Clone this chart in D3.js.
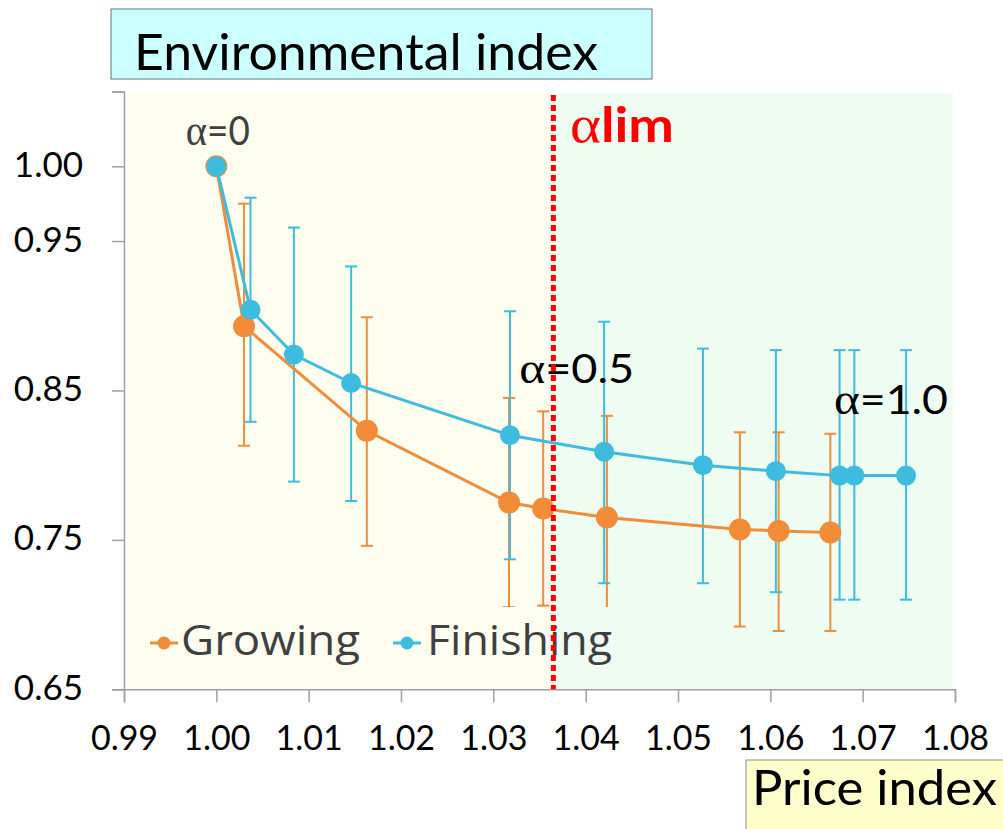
<!DOCTYPE html>
<html>
<head>
<meta charset="utf-8">
<script src="https://cdn.jsdelivr.net/npm/d3@7"></script>
<style>
  html, body { margin: 0; padding: 0; background: #ffffff; }
  svg { display: block; }
</style>
</head>
<body>
<svg id="chart" width="1003" height="829"></svg>
<script>
// ---------- DATA ----------
const xTickValues = [0.99, 1.00, 1.01, 1.02, 1.03, 1.04, 1.05, 1.06, 1.07, 1.08];
const yTickValues = [0.65, 0.75, 0.85, 0.95, 1.00, 1.05];
const yTickLabels = ["0.65", "0.75", "0.85", "0.95", "1.00", ""];

const growingPrice = [1.000, 1.0030, 1.0163, 1.0317, 1.0354, 1.0423, 1.0567, 1.0609, 1.0665];
const growingEnv   = [1.000, 0.893, 0.823, 0.775, 0.771, 0.765, 0.757, 0.756, 0.755];
const growingHigh  = [null, 0.975, 0.899, 0.845, 0.836, 0.833, 0.822, 0.822, 0.821];
const growingLow   = [null, 0.813, 0.746, 0.705, 0.706, 0.697, 0.692, 0.689, 0.689];

const finishingPrice = [1.000, 1.0037, 1.0084, 1.0146, 1.0318, 1.0420, 1.0527, 1.0606, 1.0675, 1.0691, 1.0747];
const finishingEnv   = [1.000, 0.904, 0.874, 0.855, 0.820, 0.809, 0.800, 0.796, 0.793, 0.793, 0.793];
const finishingHigh  = [null, 0.979, 0.959, 0.933, 0.903, 0.896, 0.878, 0.877, 0.877, 0.877, 0.877];
const finishingLow   = [null, 0.829, 0.789, 0.776, 0.737, 0.721, 0.721, 0.715, 0.710, 0.710, 0.710];

const alphaLim = 1.0365;
const seriesNames = ["Growing", "Finishing"];
const annotations = [
  { alpha: "\u03B1", rest: "=0",   price: 0.9967, env: 1.0140, color: "#404040", w: 64 },
  { alpha: "\u03B1", rest: "=0.5", price: 1.0328, env: 0.8547, color: "#000000", w: 115 },
  { alpha: "\u03B1", rest: "=1.0", price: 1.0669, env: 0.8340, color: "#000000", w: 114 }
];

// ---------- SETUP ----------
const COL_G = "#F28C38";
const COL_F = "#3EBCE0";
const svg = d3.select("#chart");

const x = d3.scaleLinear().domain([0.99, 1.08]).range([124, 955]);
const y = d3.scaleLinear().domain([0.65, 1.05]).range([689.3, 91.6]);

const plotTop = 93, plotBottom = y(0.65), plotLeft = 127, plotRight = 953;
const limX = x(alphaLim);

// backgrounds
svg.append("rect").attr("x", plotLeft).attr("y", plotTop)
  .attr("width", limX - plotLeft).attr("height", plotBottom - plotTop).attr("fill", "#FDFDF0");
svg.append("rect").attr("x", limX).attr("y", plotTop)
  .attr("width", plotRight - limX).attr("height", plotBottom - plotTop).attr("fill", "#EFFCF1");

// title box
svg.append("rect").attr("x", 111).attr("y", 9).attr("width", 541).attr("height", 70)
  .attr("fill", "#CCFFFF").attr("stroke", "#5A7878").attr("stroke-width", 1);
svg.append("text").attr("x", 134).attr("y", 70)
  .attr("font-family", "Lato").attr("font-size", 50).attr("fill", "#000")
  .attr("textLength", 464).attr("lengthAdjust", "spacingAndGlyphs")
  .text("Environmental index");

// price index box
svg.append("rect").attr("x", 746).attr("y", 760).attr("width", 270).attr("height", 90)
  .attr("fill", "#FFFFCC").attr("stroke", "#8A8A8A").attr("stroke-width", 1);
svg.append("text").attr("x", 752).attr("y", 805)
  .attr("font-family", "Lato").attr("font-size", 48).attr("fill", "#000")
  .attr("textLength", 245).attr("lengthAdjust", "spacingAndGlyphs")
  .text("Price index");

// axes
const axisColor = "#A0A0A0";
const xAxis = d3.axisBottom(x).tickValues(xTickValues).tickSize(13).tickFormat(d3.format(".2f"));
const gx = svg.append("g").attr("transform", `translate(0,${plotBottom})`).call(xAxis);
gx.select(".domain").attr("stroke", axisColor).attr("stroke-width", 1.5);
gx.selectAll(".tick line").attr("stroke", axisColor).attr("stroke-width", 1.5);
gx.selectAll(".tick text").attr("font-family", "Lato").attr("font-size", 34)
  .attr("fill", "#000").attr("y", 0).attr("dy", 0)
  .attr("transform", "translate(0,61)");

const yAxis = d3.axisLeft(y).tickValues(yTickValues).tickSize(12)
  .tickFormat((d, i) => yTickLabels[i]);
const gy = svg.append("g").attr("transform", `translate(124,0)`).call(yAxis);
gy.select(".domain").attr("stroke", axisColor).attr("stroke-width", 1.5);
gy.selectAll(".tick line").attr("stroke", axisColor).attr("stroke-width", 1.5);
gy.selectAll(".tick text").attr("font-family", "Lato").attr("font-size", 35)
  .attr("fill", "#000").attr("x", -41).attr("dy", 0).attr("y", 10);

// error bars
function errorBars(prices, highs, lows, color) {
  const g = svg.append("g").attr("stroke", color).attr("stroke-width", 2).attr("fill", "none");
  prices.forEach((p, i) => {
    if (highs[i] == null) return;
    const cx = x(p);
    g.append("line").attr("x1", cx).attr("x2", cx).attr("y1", y(highs[i])).attr("y2", y(lows[i]));
    g.append("line").attr("x1", cx - 6).attr("x2", cx + 6).attr("y1", y(highs[i])).attr("y2", y(highs[i]));
    g.append("line").attr("x1", cx - 6).attr("x2", cx + 6).attr("y1", y(lows[i])).attr("y2", y(lows[i]));
  });
}
errorBars(growingPrice, growingHigh, growingLow, COL_G);
errorBars(finishingPrice, finishingHigh, finishingLow, COL_F);

// lines & points
const line = d3.line().x(d => x(d[0])).y(d => y(d[1]));
function series(prices, envs, color, r) {
  const pts = prices.map((p, i) => [p, envs[i]]);
  svg.append("path").datum(pts).attr("d", line)
    .attr("fill", "none").attr("stroke", color).attr("stroke-width", 3);
  svg.append("g").selectAll("circle").data(pts).join("circle")
    .attr("cx", d => x(d[0])).attr("cy", d => y(d[1])).attr("r", r).attr("fill", color);
}
series(growingPrice, growingEnv, COL_G, 11);
series(finishingPrice, finishingEnv, COL_F, 10);

// legend background (covers bars as in original)
const legTop = 607, legLeft = 128, legRight = 625;
svg.append("rect").attr("x", legLeft).attr("y", legTop).attr("width", limX - legLeft)
  .attr("height", plotBottom - legTop - 1).attr("fill", "#FDFDF0");
svg.append("rect").attr("x", limX).attr("y", legTop).attr("width", legRight - limX)
  .attr("height", plotBottom - legTop - 1).attr("fill", "#EFFCF1");

const legendItems = [
  { name: seriesNames[0], color: COL_G, lx: 150, tx: 181, w: 179 },
  { name: seriesNames[1], color: COL_F, lx: 393, tx: 427, w: 185 }
];
legendItems.forEach(it => {
  svg.append("line").attr("x1", it.lx).attr("x2", it.lx + 28).attr("y1", 643).attr("y2", 643)
    .attr("stroke", it.color).attr("stroke-width", 3);
  svg.append("circle").attr("cx", it.lx + 14).attr("cy", 643).attr("r", 6.5).attr("fill", it.color);
  svg.append("text").attr("x", it.tx).attr("y", 655)
    .attr("font-family", "Open Sans").attr("font-size", 42).attr("fill", "#404040")
    .attr("textLength", it.w).attr("lengthAdjust", "spacingAndGlyphs")
    .text(it.name);
});

// annotations
annotations.forEach(a => {
  const t = svg.append("text").attr("x", x(a.price)).attr("y", y(a.env))
    .attr("font-family", "Lato").attr("font-size", 40).attr("fill", a.color)
    .attr("textLength", a.w).attr("lengthAdjust", "spacingAndGlyphs");
  t.append("tspan").attr("font-family", "Liberation Serif").attr("font-size", 44).text(a.alpha);
  t.append("tspan").text(a.rest);
});

// alpha lim line
svg.append("line").attr("x1", limX).attr("x2", limX).attr("y1", 95).attr("y2", plotBottom)
  .attr("stroke", "#FF0000").attr("stroke-width", 5).attr("stroke-dasharray", "6,4");
const lim = svg.append("text").attr("x", 570).attr("y", 142)
  .attr("font-family", "Lato").attr("font-weight", "bold").attr("font-size", 48).attr("fill", "#FF0000")
  .attr("textLength", 104).attr("lengthAdjust", "spacingAndGlyphs");
lim.append("tspan").attr("font-family", "Liberation Serif").attr("font-weight", "normal").attr("font-size", 52).text("\u03B1");
lim.append("tspan").text("lim");
</script>
</body>
</html>
